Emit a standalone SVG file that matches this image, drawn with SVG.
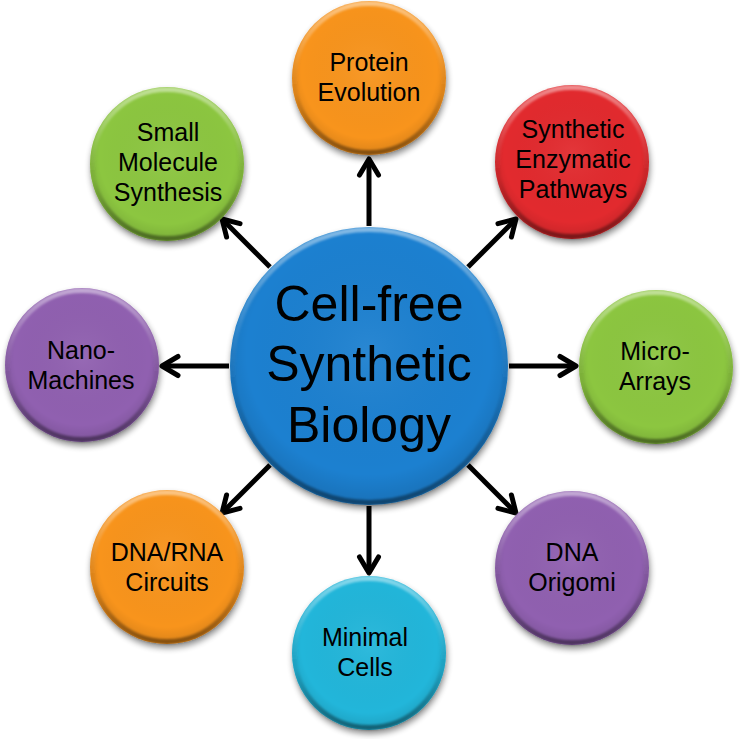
<svg xmlns="http://www.w3.org/2000/svg" width="740" height="739" viewBox="0 0 740 739">
  <style>
    .lbl { font-family: "Liberation Sans", Arial, sans-serif; font-size: 25px; text-anchor: middle; fill: #000; }
    .big { font-size: 50px; }
    .ball { filter: url(#shadow); }
    .rim { fill: none; stroke: url(#rimGrad); stroke-width: 5; filter: url(#soft); }
    .shade { fill: url(#edgeShade); }
    .conn { stroke: #000; stroke-width: 5; fill: none; marker-end: url(#arrow); }
    .blue { fill: #1a80d0; }
    .orange { fill: #f8941f; }
    .red { fill: #e2292d; }
    .green { fill: #8cc63f; }
    .purple { fill: #9060b0; }
    .cyan { fill: #20b6da; }
  </style>
  <defs>
    <filter id="shadow" x="-20%" y="-20%" width="140%" height="150%">
      <feGaussianBlur in="SourceAlpha" stdDeviation="3"/>
      <feOffset dx="1" dy="4" result="b"/>
      <feComponentTransfer><feFuncA type="linear" slope="0.45"/></feComponentTransfer>
      <feMerge><feMergeNode/><feMergeNode in="SourceGraphic"/></feMerge>
    </filter>
    <filter id="soft" x="-10%" y="-10%" width="120%" height="120%">
      <feGaussianBlur stdDeviation="1.2"/>
    </filter>
    <linearGradient id="rimGrad" x1="0" y1="0" x2="0" y2="1">
      <stop offset="0" stop-color="#fff" stop-opacity="0.45"/>
      <stop offset="0.35" stop-color="#fff" stop-opacity="0.1"/>
      <stop offset="0.6" stop-color="#000" stop-opacity="0.05"/>
      <stop offset="1" stop-color="#000" stop-opacity="0.4"/>
    </linearGradient>
    <radialGradient id="edgeShade" cx="0.5" cy="0.45" r="0.55">
      <stop offset="0" stop-color="#fff" stop-opacity="0.06"/>
      <stop offset="0.8" stop-color="#000" stop-opacity="0"/>
      <stop offset="1" stop-color="#000" stop-opacity="0.12"/>
    </radialGradient>
    <marker id="arrow" markerUnits="userSpaceOnUse" markerWidth="40" markerHeight="40" refX="0" refY="0" orient="auto" overflow="visible">
      <path d="M -16 -9.5 L 0 0 L -16 9.5" fill="none" stroke="#000" stroke-width="5" stroke-linecap="round" stroke-linejoin="round"/>
    </marker>
  </defs>

  <g id="connectors">
    <line class="conn" x1="369" y1="226" x2="369" y2="159"/>
    <line class="conn" x1="369" y1="506" x2="369" y2="573"/>
    <line class="conn" x1="509" y1="366" x2="576" y2="366"/>
    <line class="conn" x1="229" y1="366" x2="162" y2="366"/>
    <line class="conn" x1="468" y1="267" x2="516" y2="219"/>
    <line class="conn" x1="270" y1="267" x2="222" y2="219"/>
    <line class="conn" x1="468" y1="465" x2="516" y2="513"/>
    <line class="conn" x1="270" y1="465" x2="222" y2="513"/>
  </g>

  <g id="center">
    <circle class="ball blue" cx="369" cy="366" r="139"/>
    <circle class="shade" cx="369" cy="366" r="139"/>
    <circle class="rim" cx="369" cy="366" r="136.5"/>
    <text class="lbl big" x="369" y="321">Cell-free</text>
    <text class="lbl big" x="369" y="381">Synthetic</text>
    <text class="lbl big" x="369" y="442">Biology</text>
  </g>

  <g id="protein-evolution">
    <circle class="ball orange" cx="369" cy="78" r="77"/>
    <circle class="shade" cx="369" cy="78" r="77"/>
    <circle class="rim" cx="369" cy="78" r="74.5"/>
    <text class="lbl" x="369" y="71">Protein</text>
    <text class="lbl" x="369" y="101">Evolution</text>
  </g>

  <g id="synthetic-enzymatic-pathways">
    <circle class="ball red" cx="572" cy="162" r="77"/>
    <circle class="shade" cx="572" cy="162" r="77"/>
    <circle class="rim" cx="572" cy="162" r="74.5"/>
    <text class="lbl" x="573" y="138">Synthetic</text>
    <text class="lbl" x="573" y="168">Enzymatic</text>
    <text class="lbl" x="573" y="198">Pathways</text>
  </g>

  <g id="micro-arrays">
    <circle class="ball green" cx="656" cy="367" r="77"/>
    <circle class="shade" cx="656" cy="367" r="77"/>
    <circle class="rim" cx="656" cy="367" r="74.5"/>
    <text class="lbl" x="655" y="360">Micro-</text>
    <text class="lbl" x="655" y="390">Arrays</text>
  </g>

  <g id="dna-origomi">
    <circle class="ball purple" cx="572" cy="568" r="77"/>
    <circle class="shade" cx="572" cy="568" r="77"/>
    <circle class="rim" cx="572" cy="568" r="74.5"/>
    <text class="lbl" x="572" y="561">DNA</text>
    <text class="lbl" x="572" y="591">Origomi</text>
  </g>

  <g id="minimal-cells">
    <circle class="ball cyan" cx="369" cy="653" r="77"/>
    <circle class="shade" cx="369" cy="653" r="77"/>
    <circle class="rim" cx="369" cy="653" r="74.5"/>
    <text class="lbl" x="365" y="646">Minimal</text>
    <text class="lbl" x="365" y="676">Cells</text>
  </g>

  <g id="dna-rna-circuits">
    <circle class="ball orange" cx="167" cy="567" r="77"/>
    <circle class="shade" cx="167" cy="567" r="77"/>
    <circle class="rim" cx="167" cy="567" r="74.5"/>
    <text class="lbl" x="167" y="561">DNA/RNA</text>
    <text class="lbl" x="167" y="591">Circuits</text>
  </g>

  <g id="nano-machines">
    <circle class="ball purple" cx="82" cy="365" r="77"/>
    <circle class="shade" cx="82" cy="365" r="77"/>
    <circle class="rim" cx="82" cy="365" r="74.5"/>
    <text class="lbl" x="81" y="359">Nano-</text>
    <text class="lbl" x="81" y="389">Machines</text>
  </g>

  <g id="small-molecule-synthesis">
    <circle class="ball green" cx="167" cy="164" r="77"/>
    <circle class="shade" cx="167" cy="164" r="77"/>
    <circle class="rim" cx="167" cy="164" r="74.5"/>
    <text class="lbl" x="168" y="141">Small</text>
    <text class="lbl" x="168" y="171">Molecule</text>
    <text class="lbl" x="168" y="201">Synthesis</text>
  </g>
</svg>
